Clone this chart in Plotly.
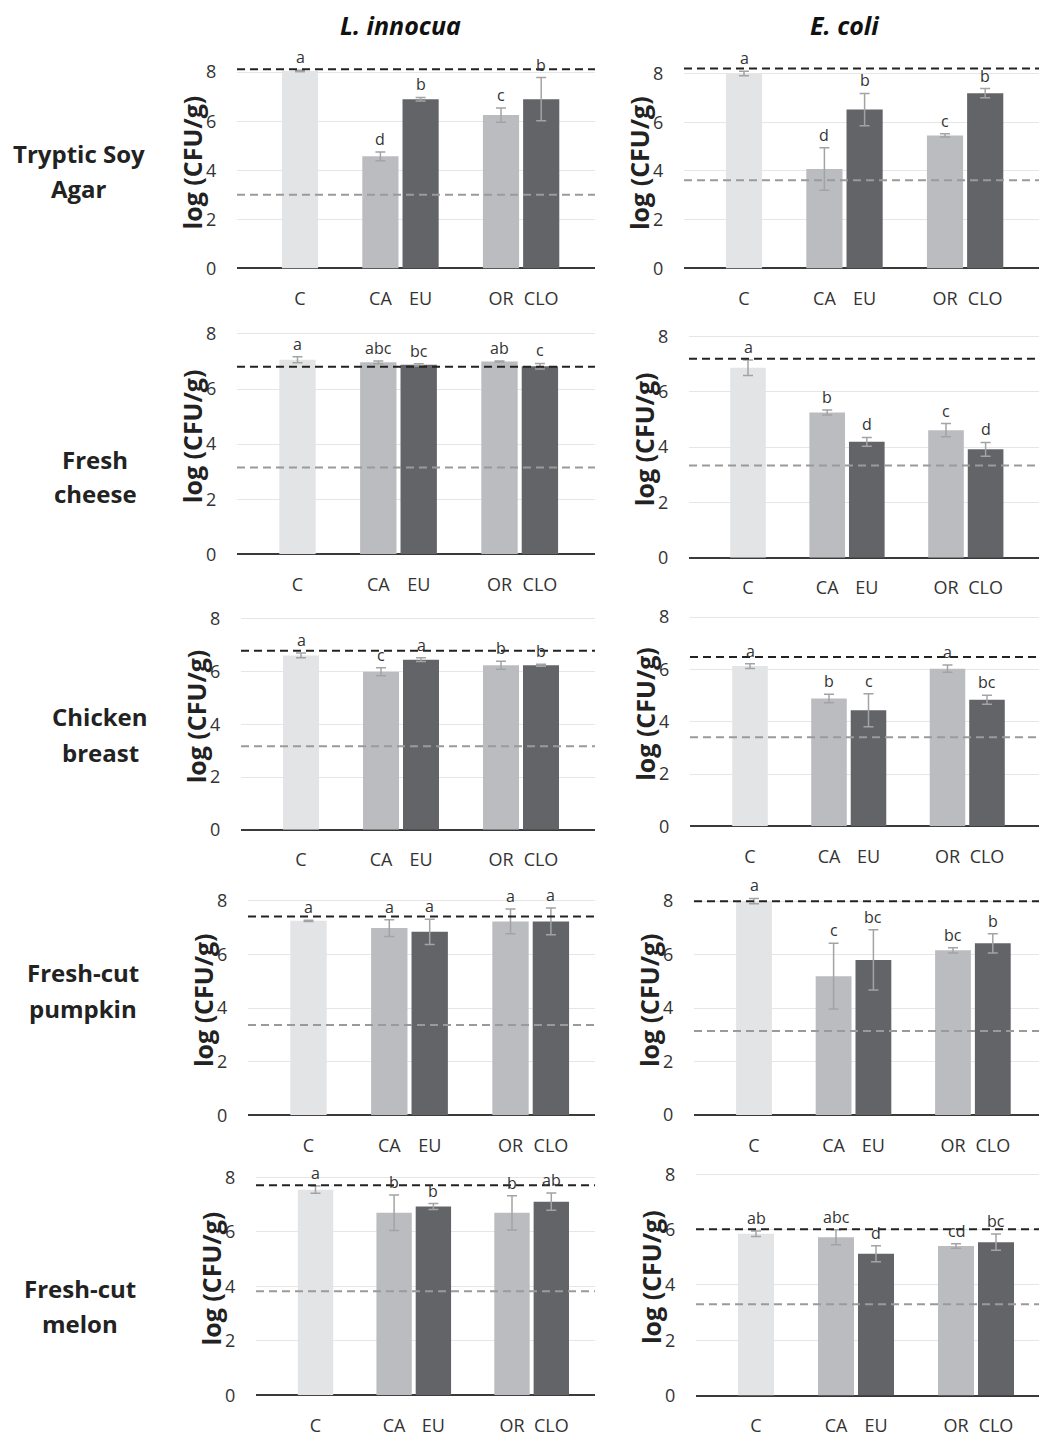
import plotly.graph_objects as go

# ---------------- data ----------------
treatments = ["C", "CA", "EU", "OR", "CLO"]
axis_categories = ["C", " ", "CA", "EU", "  ", "OR", "CLO"]
row_labels = [["Tryptic Soy", "Agar"], ["Fresh", "cheese"], ["Chicken", "breast"],
              ["Fresh-cut", "pumpkin"], ["Fresh-cut", "melon"]]
col_titles = ["L. innocua", "E. coli"]
y_ticks = [0, 2, 4, 6, 8]

# L. innocua (rows: TSA, cheese, chicken, pumpkin, melon)
li_means = [
    [8.05, 4.57, 6.90, 6.25, 6.90],
    [7.06, 6.97, 6.88, 7.00, 6.83],
    [6.61, 5.99, 6.45, 6.24, 6.24],
    [7.25, 6.98, 6.84, 7.23, 7.23],
    [7.55, 6.70, 6.93, 6.70, 7.11],
]
li_sd = [
    [0.03, 0.18, 0.07, 0.29, 0.88],
    [0.11, 0.05, 0.04, 0.02, 0.10],
    [0.09, 0.15, 0.07, 0.15, 0.04],
    [0.02, 0.31, 0.47, 0.46, 0.50],
    [0.13, 0.65, 0.11, 0.63, 0.32],
]
li_letters = [
    ["a", "d", "b", "c", "b"],
    ["a", "abc", "bc", "ab", "c"],
    ["a", "c", "a", "b", "b"],
    ["a", "a", "a", "a", "a"],
    ["a", "b", "b", "b", "ab"],
]
li_upper = [8.12, 6.81, 6.79, 7.41, 7.71]
li_lower = [3.00, 3.15, 3.17, 3.37, 3.82]

# E. coli
ec_means = [
    [8.00, 4.08, 6.52, 5.46, 7.19],
    [6.87, 5.25, 4.19, 4.61, 3.92],
    [6.13, 4.89, 4.44, 6.03, 4.84],
    [8.00, 5.19, 5.80, 6.16, 6.42],
    [5.85, 5.73, 5.13, 5.41, 5.55],
]
ec_sd = [
    [0.09, 0.87, 0.66, 0.07, 0.19],
    [0.28, 0.09, 0.16, 0.24, 0.25],
    [0.09, 0.16, 0.63, 0.14, 0.17],
    [0.10, 1.23, 1.13, 0.10, 0.36],
    [0.10, 0.27, 0.29, 0.08, 0.29],
]
ec_letters = [
    ["a", "d", "b", "c", "b"],
    ["a", "b", "d", "c", "d"],
    ["a", "b", "c", "a", "bc"],
    ["a", "c", "bc", "bc", "b"],
    ["ab", "abc", "d", "cd", "bc"],
]
ec_upper = [8.20, 7.20, 6.48, 8.00, 6.02]
ec_lower = [3.62, 3.33, 3.41, 3.14, 3.30]

bar_colors = ["#e3e4e6", "#bbbcc0", "#636468", "#bbbcc0", "#636468"]

# ---------------- layout geometry (page pixels) ----------------
PAGE_W, PAGE_H = 1047, 1445
OFF = 8                      # default body margin of the html page
W, H = PAGE_W - 2 * OFF, PAGE_H - 2 * OFF

def px(x):
    return (x - OFF) / W

def py(y):
    return 1 - (y - OFF) / H

# per panel: y of value 0, y of value 8, left px, right px, centre of C px, px per category
geom = {
    (0, 0): (270.7, 72.7, 237, 595, 300, 40.2),
    (0, 1): (270.7, 74.0, 684, 1045, 744, 40.2),
    (1, 0): (559.0, 336.7, 237, 595, 297.5, 40.4),
    (1, 1): (562.3, 339.3, 689, 1045, 748, 39.6),
    (2, 0): (836.7, 624.0, 241, 595, 301, 40.0),
    (2, 1): (833.3, 622.3, 690, 1045, 750, 39.5),
    (3, 0): (1124.7, 908.3, 248, 595, 308.5, 40.4),
    (3, 1): (1124.3, 908.7, 694, 1045, 754, 39.8),
    (4, 0): (1407.0, 1187.3, 256, 595, 315.5, 39.3),
    (4, 1): (1407.3, 1184.3, 696, 1045, 756, 40.0),
}
YMAX = 8.5
FONT = "Open Sans"

fig = go.Figure()
annotations = []
shapes = []

panel = 0
for r in range(5):
    for c in range(2):
        panel += 1
        sfx = "" if panel == 1 else str(panel)
        means = (li_means if c == 0 else ec_means)[r]
        sds = (li_sd if c == 0 else ec_sd)[r]
        letters = (li_letters if c == 0 else ec_letters)[r]
        upper = (li_upper if c == 0 else ec_upper)[r]
        lower = (li_lower if c == 0 else ec_lower)[r]
        y0, y8, xl, xr, cpx, unit = geom[(r, c)]
        ppu = (y0 - y8) / 8.0
        ytop = y0 - YMAX * ppu
        ydom = [py(y0), py(ytop)]
        xdom = [px(xl), min(px(xr), 1.0)]
        xr_eff = xdom[1] * W + OFF
        xrange = [(xl - cpx) / unit, (xr_eff - cpx) / unit]

        fig.add_trace(go.Bar(
            x=treatments, y=means, width=0.9,
            marker=dict(color=bar_colors, line=dict(width=0)),
            error_y=dict(type="data", array=sds, color="#a3a3a3", thickness=1.5, width=5),
            xaxis="x" + sfx, yaxis="y" + sfx, showlegend=False,
        ))
        fig.layout["xaxis" + sfx] = dict(
            domain=xdom, anchor="y" + sfx, type="category",
            categoryorder="array", categoryarray=axis_categories,
            range=xrange, showgrid=False, zeroline=False, showline=False,
            ticks="outside", ticklen=14, tickcolor="rgba(0,0,0,0)",
            tickfont=dict(family=FONT, size=18, color="#333333"),
        )
        fig.layout["yaxis" + sfx] = dict(
            domain=ydom, anchor="x" + sfx, range=[0, YMAX],
            tickvals=y_ticks, showgrid=True, gridcolor="#e6e6e6", gridwidth=1,
            zeroline=True, zerolinecolor="#3a3a3a", zerolinewidth=2,
            showline=False, ticks="outside", ticklen=16, tickcolor="rgba(0,0,0,0)",
            tickfont=dict(family=FONT, size=18, color="#333333"),
        )
        # reference levels
        shapes.append(dict(type="line", xref="x" + sfx + " domain", yref="y" + sfx,
                           x0=0, x1=1, y0=upper, y1=upper, layer="above",
                           line=dict(color="#222222", width=2, dash="8px,5px")))
        shapes.append(dict(type="line", xref="x" + sfx + " domain", yref="y" + sfx,
                           x0=0, x1=1, y0=lower, y1=lower, layer="above",
                           line=dict(color="#9a9a9a", width=2, dash="8px,5px")))
        # significance letters
        for t, m, s, l in zip(treatments, means, sds, letters):
            annotations.append(dict(x=t, y=m + s, xref="x" + sfx, yref="y" + sfx,
                                    text=l, showarrow=False, yanchor="bottom", yshift=0,
                                    font=dict(family=FONT, size=16, color="#333333")))
        # y axis title
        ymid = (y0 + y8) / 2 - 8
        annotations.append(dict(x=px(xl - 45), y=py(ymid), xref="paper", yref="paper",
                                text="<b>log (CFU/g)</b>", textangle=-90, showarrow=False,
                                xanchor="center", yanchor="middle",
                                font=dict(family=FONT, size=25, color="#222222")))

# row labels
row_label_y = [(155, 190), (463, 498), (723, 759), (981, 1017), (1299, 1335)]
row_label_x = [79, 95, 100, 83, 80]
for (l1, l2), (ya, yb), xc in zip(row_labels, row_label_y, row_label_x):
    for txt, yy in ((l1, ya), (l2, yb)):
        annotations.append(dict(x=px(xc), y=py(yy), xref="paper", yref="paper",
                                text="<b>" + txt + "</b>", showarrow=False,
                                xanchor="center", yanchor="middle",
                                font=dict(family=FONT, size=24, color="#222222")))

# column titles
for txt, xc in zip(col_titles, [400, 844]):
    annotations.append(dict(x=px(xc), y=py(25), xref="paper", yref="paper",
                            text="<b><i>" + txt + "</i></b>", showarrow=False,
                            xanchor="center", yanchor="middle",
                            font=dict(family=FONT, size=25, color="#111111")))

fig.update_layout(
    width=W, height=H, margin=dict(l=0, r=0, t=0, b=0),
    paper_bgcolor="white", plot_bgcolor="white",
    annotations=annotations, shapes=shapes, bargap=0.1,
    font=dict(family=FONT),
)
fig.write_html("out.html")
